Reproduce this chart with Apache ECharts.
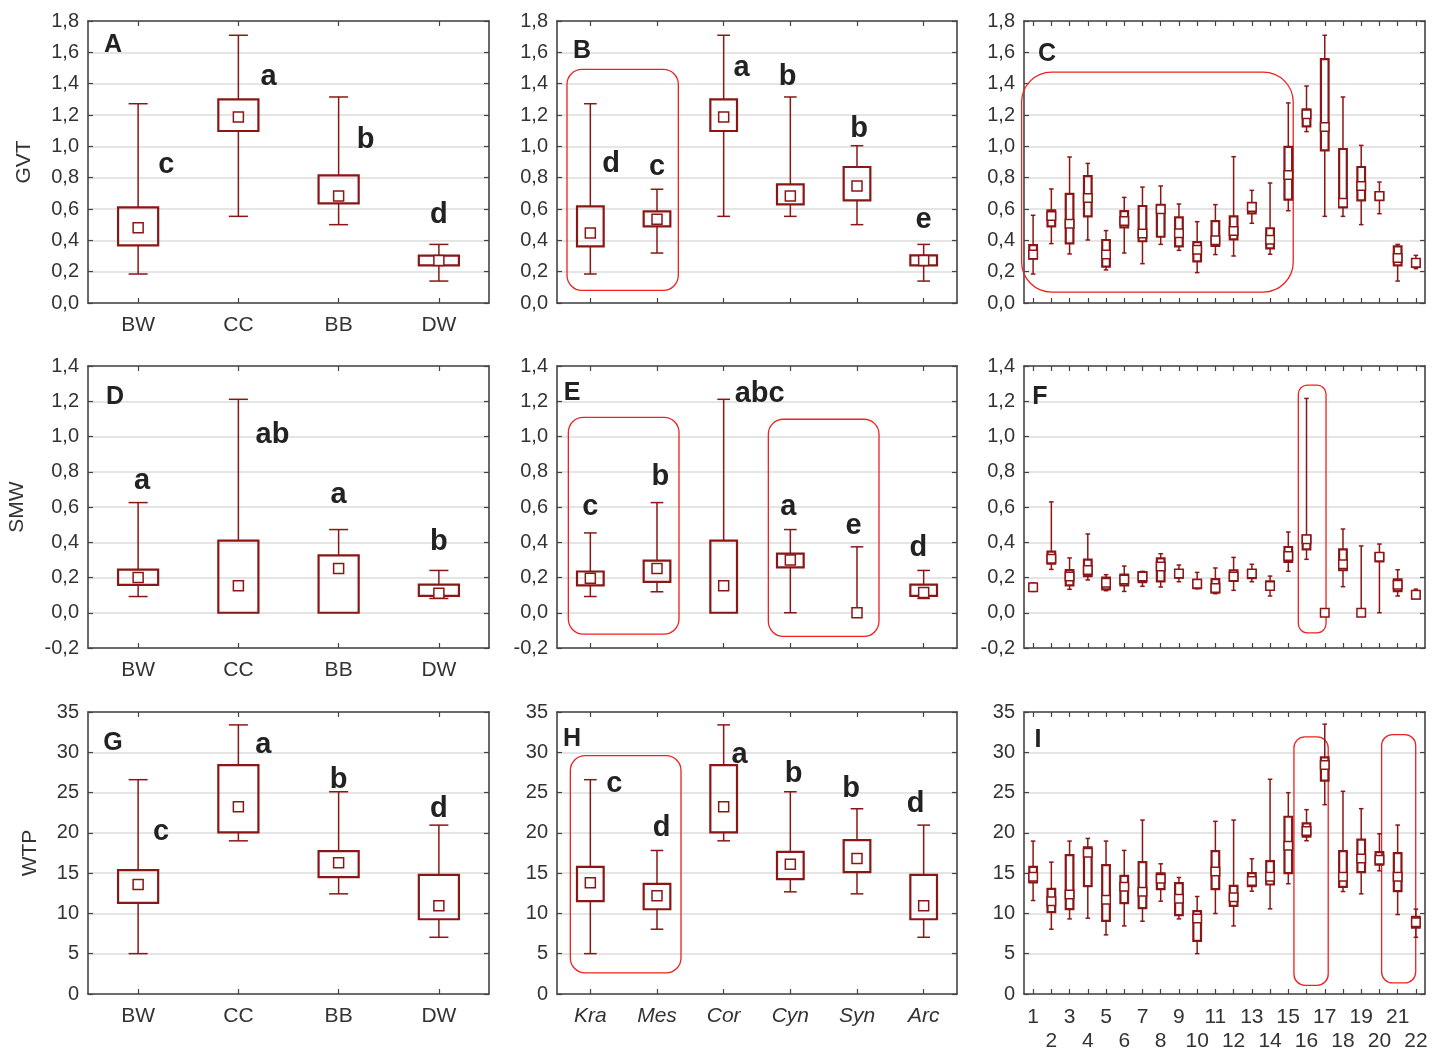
<!DOCTYPE html>
<html><head><meta charset="utf-8">
<script src="https://cdn.jsdelivr.net/npm/echarts@6/dist/echarts.min.js"></script>
<style>html,body{margin:0;padding:0;background:#fff}#chart{width:1438px;height:1050px}</style>
</head><body><div id="chart"></div>
<script>
// ---------- categories ----------
const groups = ['BW', 'CC', 'BB', 'DW'];
const taxa = ['Kra', 'Mes', 'Cor', 'Cyn', 'Syn', 'Arc'];
const sites = ['1','2','3','4','5','6','7','8','9','10','11','12','13','14','15','16','17','18','19','20','21','22'];

// ---------- values: [min, Q1, mean, Q3, max] ----------
const gvtGroup = [
  [0.185, 0.368, 0.481, 0.611, 1.272],
  [0.553, 1.098, 1.187, 1.300, 1.709],
  [0.500, 0.636, 0.683, 0.815, 1.315],
  [0.140, 0.240, 0.272, 0.302, 0.374]
];
const gvtTaxon = [
  [0.185, 0.362, 0.447, 0.617, 1.272],
  [0.319, 0.489, 0.534, 0.585, 0.726],
  [0.553, 1.098, 1.187, 1.300, 1.709],
  [0.553, 0.630, 0.683, 0.757, 1.315],
  [0.500, 0.655, 0.747, 0.868, 1.004],
  [0.140, 0.240, 0.272, 0.304, 0.374]
];
const gvtSite = [
  [0.185, 0.283, 0.310, 0.370, 0.560],
  [0.379, 0.489, 0.555, 0.591, 0.728],
  [0.313, 0.381, 0.506, 0.696, 0.932],
  [0.402, 0.553, 0.670, 0.810, 0.891],
  [0.211, 0.232, 0.309, 0.402, 0.462],
  [0.319, 0.483, 0.523, 0.587, 0.674],
  [0.251, 0.394, 0.443, 0.619, 0.740],
  [0.374, 0.423, 0.598, 0.626, 0.747],
  [0.336, 0.362, 0.445, 0.547, 0.632],
  [0.194, 0.266, 0.340, 0.389, 0.519],
  [0.309, 0.364, 0.400, 0.523, 0.628],
  [0.300, 0.406, 0.460, 0.553, 0.934],
  [0.509, 0.572, 0.613, 0.640, 0.719],
  [0.311, 0.349, 0.404, 0.477, 0.766],
  [0.589, 0.660, 0.817, 0.996, 1.277],
  [1.094, 1.128, 1.204, 1.236, 1.385],
  [0.553, 0.974, 1.123, 1.557, 1.709],
  [0.553, 0.611, 0.640, 0.983, 1.315],
  [0.500, 0.655, 0.747, 0.868, 1.006],
  [0.570, 0.657, 0.683, 0.706, 0.772],
  [0.140, 0.240, 0.287, 0.362, 0.374],
  [0.219, 0.230, 0.257, 0.281, 0.304]
];
const smwGroup = [
  [0.092, 0.158, 0.200, 0.245, 0.625],
  [0.000, 0.000, 0.153, 0.409, 1.211],
  [0.000, 0.000, 0.251, 0.325, 0.472],
  [0.081, 0.096, 0.111, 0.160, 0.240]
];
const smwTaxon = [
  [0.092, 0.155, 0.196, 0.234, 0.453],
  [0.119, 0.175, 0.251, 0.296, 0.625],
  [0.000, 0.000, 0.153, 0.409, 1.211],
  [0.000, 0.257, 0.300, 0.336, 0.472],
  [0.000, 0.000, 0.000, 0.000, 0.374],
  [0.081, 0.096, 0.115, 0.160, 0.240]
];
const smwSite = [
  [0.121, 0.125, 0.144, 0.161, 0.169],
  [0.246, 0.278, 0.307, 0.347, 0.629],
  [0.133, 0.155, 0.205, 0.242, 0.311],
  [0.186, 0.208, 0.242, 0.301, 0.447],
  [0.125, 0.133, 0.170, 0.200, 0.216],
  [0.121, 0.155, 0.188, 0.216, 0.265],
  [0.150, 0.174, 0.205, 0.231, 0.235],
  [0.146, 0.178, 0.263, 0.309, 0.335],
  [0.176, 0.199, 0.222, 0.241, 0.271],
  [0.136, 0.140, 0.165, 0.186, 0.229],
  [0.108, 0.114, 0.140, 0.191, 0.254],
  [0.127, 0.180, 0.205, 0.241, 0.314],
  [0.176, 0.197, 0.222, 0.242, 0.275],
  [0.095, 0.133, 0.152, 0.178, 0.208],
  [0.235, 0.288, 0.322, 0.373, 0.458],
  [0.303, 0.360, 0.417, 0.438, 1.216],
  [0.000, 0.000, 0.000, 0.000, 0.000],
  [0.148, 0.241, 0.275, 0.360, 0.475],
  [0.000, 0.000, 0.000, 0.000, 0.379],
  [0.000, 0.292, 0.318, 0.339, 0.390],
  [0.095, 0.123, 0.159, 0.189, 0.244],
  [0.080, 0.081, 0.102, 0.121, 0.134]
];
const wtpGroup = [
  [5.01, 11.31, 13.59, 15.37, 26.6],
  [19.01, 20.05, 23.24, 28.4, 33.4],
  [12.43, 14.5, 16.28, 17.73, 25.1],
  [7.04, 9.28, 10.94, 14.79, 20.96]
];
const wtpTaxon = [
  [5.01, 11.52, 13.8, 15.78, 26.6],
  [8.04, 10.52, 12.18, 13.67, 17.81],
  [19.01, 20.05, 23.24, 28.4, 33.4],
  [12.68, 14.25, 16.11, 17.65, 25.1],
  [12.43, 15.12, 16.82, 19.1, 22.99],
  [7.04, 9.28, 10.94, 14.79, 20.96]
];
const wtpSite = [
  [11.6, 13.84, 14.55, 15.79, 18.98],
  [8.04, 10.15, 11.52, 13.05, 16.37],
  [9.32, 10.53, 12.35, 17.24, 18.98],
  [9.41, 13.39, 17.53, 18.19, 19.31],
  [7.34, 9.08, 11.69, 16.0, 18.98],
  [8.45, 11.27, 13.3, 14.67, 17.82],
  [9.03, 10.65, 12.68, 16.37, 21.59],
  [11.52, 13.01, 14.3, 14.96, 16.16],
  [9.32, 9.78, 11.81, 13.76, 14.46],
  [5.01, 6.59, 9.37, 10.28, 12.1],
  [9.99, 13.01, 15.21, 17.74, 21.43],
  [8.45, 10.94, 12.02, 13.43, 21.59],
  [12.76, 13.39, 14.01, 15.0, 16.78],
  [10.57, 13.59, 14.55, 16.49, 26.65],
  [13.68, 15.0, 18.4, 22.0, 24.99],
  [19.02, 19.52, 20.22, 21.18, 22.88],
  [23.5, 26.48, 28.43, 29.38, 33.49],
  [12.72, 13.3, 14.55, 17.74, 25.16],
  [12.43, 15.13, 16.83, 19.15, 23.0],
  [15.29, 16.04, 16.66, 17.61, 19.89],
  [9.86, 12.76, 14.55, 17.49, 20.97],
  [7.04, 8.25, 8.91, 9.57, 10.53]
];

// ---------- significance letters (text) ----------
const lettersA = ['c', 'a', 'b', 'd'];
const lettersB = ['d', 'c', 'a', 'b', 'b', 'e'];
const lettersD = ['a', 'ab', 'a', 'b'];
const lettersE = ['c', 'b', 'abc', 'a', 'e', 'd'];
const lettersG = ['c', 'a', 'b', 'd'];
const lettersH = ['c', 'd', 'a', 'b', 'b', 'd'];
// letter anchors: [category offset (bands), value]
const letterPosA = [[0.28, 0.88], [0.30, 1.44], [0.27, 1.04], [0, 0.56]];
const letterPosB = [[0.31, 0.89], [0, 0.87], [0.27, 1.50], [-0.04, 1.44], [0.03, 1.11], [0, 0.53]];
const letterPosD = [[0.04, 0.75], [0.34, 1.01], [0, 0.67], [0, 0.40]];
const letterPosE = [[0, 0.60], [0.05, 0.77], [0.54, 1.24], [-0.03, 0.60], [-0.05, 0.49], [-0.08, 0.37]];
const letterPosG = [[0.23, 20.1], [0.25, 30.9], [0, 26.5], [0, 22.9]];
const letterPosH = [[0.36, 26.1], [0.07, 20.6], [0.24, 29.7], [0.05, 27.3], [-0.09, 25.5], [-0.12, 23.6]];

// ---------- highlight frames: [x from, x to (category units), value top, value bottom] ----------
const frameB = [[-0.35, 1.32, 1.491, 0.081]];
const frameC = [[-0.63, 14.27, 1.474, 0.07]];
const frameE = [[-0.33, 1.33, 1.109, -0.121], [2.67, 4.33, 1.098, -0.134]];
const frameF = [[14.55, 16.07, 1.292, -0.114]];
const frameH = [[-0.30, 1.36, 29.58, 2.61]];
const frameI = [[14.31, 16.19, 31.91, 1.08], [19.12, 20.99, 32.2, 1.37]];

// ---------- layout & style ----------
const FONT = '"Liberation Sans", Arial, Helvetica, sans-serif';
const DARK = '#8a1616';
const TXT = '#333';
const cols = [{ left: 88, width: 401 }, { left: 557, width: 400 }, { left: 1024, width: 401 }];
const rows = [{ top: 21, height: 282 }, { top: 366, height: 282 }, { top: 712, height: 282 }];
const yCfg = [
  { min: 0, max: 1.8, interval: 0.2, dec: 1, name: 'GVT', gap: 53 },
  { min: -0.2, max: 1.4, interval: 0.2, dec: 1, name: 'SMW', gap: 60 },
  { min: 0, max: 35, interval: 5, dec: 0, name: 'WTP', gap: 47 }
];

const panels = [
  { r: 0, c: 0, cats: groups, data: gvtGroup, letters: lettersA, lpos: letterPosA, tag: 'A', tagOff: [25, 24], xl: true },
  { r: 0, c: 1, cats: taxa, data: gvtTaxon, letters: lettersB, lpos: letterPosB, frames: frameB, fr: 15, tag: 'B', tagOff: [25, 30], xl: false },
  { r: 0, c: 2, cats: sites, data: gvtSite, frames: frameC, fr: 30, tag: 'C', tagOff: [23, 33], xl: false, narrow: true },
  { r: 1, c: 0, cats: groups, data: smwGroup, letters: lettersD, lpos: letterPosD, tag: 'D', tagOff: [27, 31], xl: true },
  { r: 1, c: 1, cats: taxa, data: smwTaxon, letters: lettersE, lpos: letterPosE, frames: frameE, fr: 15, tag: 'E', tagOff: [15, 27], xl: false },
  { r: 1, c: 2, cats: sites, data: smwSite, frames: frameF, fr: 9, tag: 'F', tagOff: [16, 31], xl: false, narrow: true },
  { r: 2, c: 0, cats: groups, data: wtpGroup, letters: lettersG, lpos: letterPosG, tag: 'G', tagOff: [25, 31], xl: true },
  { r: 2, c: 1, cats: taxa, data: wtpTaxon, letters: lettersH, lpos: letterPosH, frames: frameH, fr: 15, tag: 'H', tagOff: [15, 27], xl: true, italic: true },
  { r: 2, c: 2, cats: sites, data: wtpSite, frames: frameI, fr: 11, tag: 'I', tagOff: [14, 28], xl: true, narrow: true, twoRow: true }
];

function makeBoxRender(boxFrac, capFrac, markerPx) {
  return function (params, api) {
    const x = api.value(0);
    const pMin = api.coord([x, api.value(1)]);
    const pQ1 = api.coord([x, api.value(2)]);
    const pMean = api.coord([x, api.value(3)]);
    const pQ3 = api.coord([x, api.value(4)]);
    const pMax = api.coord([x, api.value(5)]);
    const band = api.size([1, 0])[0];
    const cx = pMin[0];
    const bw = band * boxFrac, cw = band * capFrac, m = markerPx;
    const wStyle = { stroke: DARK, lineWidth: 1.5, fill: null };
    const children = [];
    if (pMax[1] < pQ3[1] - 0.5) {
      children.push({ type: 'line', shape: { x1: cx, y1: pMax[1], x2: cx, y2: pQ3[1] }, style: wStyle });
      children.push({ type: 'line', shape: { x1: cx - cw / 2, y1: pMax[1], x2: cx + cw / 2, y2: pMax[1] }, style: wStyle });
    }
    if (pMin[1] > pQ1[1] + 0.5) {
      children.push({ type: 'line', shape: { x1: cx, y1: pQ1[1], x2: cx, y2: pMin[1] }, style: wStyle });
      children.push({ type: 'line', shape: { x1: cx - cw / 2, y1: pMin[1], x2: cx + cw / 2, y2: pMin[1] }, style: wStyle });
    }
    if (pQ1[1] - pQ3[1] > 0.5) {
      children.push({ type: 'rect', shape: { x: cx - bw / 2, y: pQ3[1], width: bw, height: pQ1[1] - pQ3[1] },
        style: { fill: 'rgba(255,255,255,0)', stroke: DARK, lineWidth: 2.2 } });
    }
    children.push({ type: 'rect', shape: { x: cx - m / 2, y: pMean[1] - m / 2, width: m, height: m },
      style: { fill: '#fff', stroke: DARK, lineWidth: 1.5 } });
    return { type: 'group', children: children };
  };
}

function makeFrameRender(radius) {
  return function (params, api) {
    const top = api.coord([0, api.value(1)]);
    const bot = api.coord([0, api.value(2)]);
    const band = api.size([1, 0])[0];
    const x0 = top[0] + api.value(3) * band;
    const x1 = top[0] + api.value(4) * band;
    return { type: 'rect', shape: { x: x0, y: top[1], width: x1 - x0, height: bot[1] - top[1], r: radius },
      style: { fill: null, stroke: '#ee2020', lineWidth: 1.3 } };
  };
}

function makeLetterRender(texts) {
  return function (params, api) {
    const p = api.coord([api.value(0), api.value(1)]);
    const band = api.size([1, 0])[0];
    return { type: 'text', x: p[0] + api.value(2) * band, y: p[1],
      style: { text: texts[params.dataIndex], font: 'bold 29px ' + FONT, fill: '#222',
        align: 'center', verticalAlign: 'middle', textAlign: 'center', textVerticalAlign: 'middle' } };
  };
}

const grid = [], xAxis = [], yAxis = [], series = [], graphic = [];
panels.forEach(function (p, i) {
  const col = cols[p.c], row = rows[p.r], yc = yCfg[p.r];
  grid.push({ left: col.left, top: row.top, width: col.width, height: row.height, show: false,
    containLabel: false, outerBoundsMode: 'none' });
  const tickStyle = { show: true, inside: true, length: 5, alignWithLabel: true, lineStyle: { color: '#444', width: 1.2 } };
  const lineStyle = { show: true, onZero: false, lineStyle: { color: '#444', width: 1.6 } };
  xAxis.push({
    type: 'category', gridIndex: i, data: p.cats, position: 'bottom', boundaryGap: true,
    axisLine: lineStyle, axisTick: Object.assign({ interval: 0 }, tickStyle),
    axisLabel: {
      show: p.xl, interval: 0, margin: p.twoRow ? 11 : 10, color: TXT, fontFamily: FONT, fontSize: 21,
      fontStyle: p.italic ? 'italic' : 'normal', lineHeight: 24,
      formatter: p.twoRow ? function (v, idx) { return idx % 2 === 1 ? '\n' + v : v; } : null
    },
    splitLine: { show: false }
  });
  xAxis.push({
    type: 'category', gridIndex: i, data: p.cats, position: 'top', boundaryGap: true,
    axisLine: lineStyle, axisTick: Object.assign({ interval: 0 }, tickStyle), axisLabel: { show: false }, splitLine: { show: false }
  });
  yAxis.push({
    type: 'value', gridIndex: i, min: yc.min, max: yc.max, interval: yc.interval, position: 'left',
    axisLine: lineStyle, axisTick: tickStyle,
    axisLabel: { margin: 9, color: TXT, fontFamily: FONT, fontSize: 20,
      formatter: function (v) { return v.toFixed(yc.dec).replace('.', ','); } },
    splitLine: { show: true, lineStyle: { color: '#dddddd', width: 1.5 } },
    name: p.c === 0 ? yc.name : '', nameLocation: 'middle', nameGap: yc.gap, nameRotate: 90,
    nameTextStyle: { fontFamily: FONT, fontSize: 21, color: TXT }
  });
  yAxis.push({
    type: 'value', gridIndex: i, min: yc.min, max: yc.max, interval: yc.interval, position: 'right',
    axisLine: lineStyle, axisTick: tickStyle, axisLabel: { show: false }, splitLine: { show: false }
  });
  const narrow = !!p.narrow;
  series.push({
    type: 'custom', xAxisIndex: 2 * i, yAxisIndex: 2 * i, z: 4, clip: false,
    renderItem: makeBoxRender(narrow ? 0.42 : 0.4, narrow ? 0.25 : 0.19, narrow ? 8.5 : 10),
    encode: { x: 0, y: [1, 2, 3, 4, 5] },
    data: p.data.map(function (d, k) { return [k].concat(d); })
  });
  if (p.frames) {
    series.push({
      type: 'custom', xAxisIndex: 2 * i, yAxisIndex: 2 * i, z: 3, clip: false,
      renderItem: makeFrameRender(p.fr), encode: { x: 0, y: [1, 2] },
      data: p.frames.map(function (f) { return [0, f[2], f[3], f[0], f[1]]; })
    });
  }
  if (p.letters) {
    series.push({
      type: 'custom', xAxisIndex: 2 * i, yAxisIndex: 2 * i, z: 5, clip: false,
      renderItem: makeLetterRender(p.letters), encode: { x: 0, y: 1 },
      data: p.lpos.map(function (lp, k) { return [k, lp[1], lp[0]]; })
    });
  }
  graphic.push({
    type: 'text', x: col.left + p.tagOff[0], y: row.top + p.tagOff[1], z: 10,
    style: { text: p.tag, font: 'bold 25px ' + FONT, fill: '#222', align: 'center', verticalAlign: 'middle',
      textAlign: 'center', textVerticalAlign: 'middle' }
  });
});

const chart = echarts.init(document.getElementById('chart'), null, { renderer: 'canvas' });
chart.setOption({
  animation: false,
  backgroundColor: '#fff',
  textStyle: { fontFamily: FONT },
  grid: grid, xAxis: xAxis, yAxis: yAxis, series: series, graphic: graphic
});
</script></body></html>
